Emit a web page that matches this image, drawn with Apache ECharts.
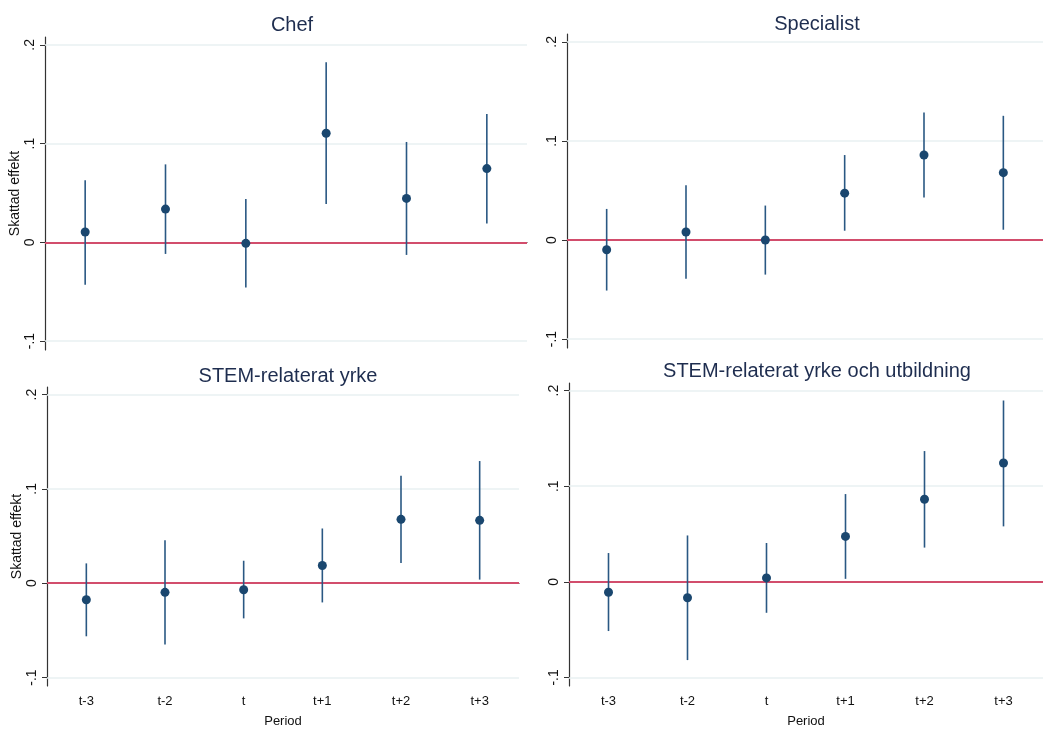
<!DOCTYPE html>
<html>
<head>
<meta charset="utf-8">
<script src="https://cdn.jsdelivr.net/npm/echarts@6/dist/echarts.min.js"></script>
<style>
  html, body { margin: 0; padding: 0; background: #fff; }
  #main { width: 1043px; height: 729px; }
</style>
</head>
<body>
<div id="main"></div>
<script>
// periods on the x axis
const periods = ['t-3', 't-2', 't', 't+1', 't+2', 't+3'];
const yTicks = [-0.1, 0, 0.1, 0.2];

// Chef
const chefEst = [0.0105, 0.0337, -0.001, 0.1105, 0.0445, 0.0747];
const chefLo  = [-0.043, -0.0117, -0.0458, 0.0388, -0.0127, 0.0192];
const chefHi  = [0.063, 0.079, 0.044, 0.1825, 0.1017, 0.130];

// Specialist
const specEst = [-0.0098, 0.0081, 0.000, 0.0473, 0.0858, 0.068];
const specLo  = [-0.051, -0.0392, -0.0349, 0.0094, 0.0429, 0.0104];
const specHi  = [0.0314, 0.0554, 0.0348, 0.0858, 0.1288, 0.1254];

// STEM-relaterat yrke
const stemEst = [-0.0176, -0.0097, -0.0069, 0.0187, 0.0677, 0.0666];
const stemLo  = [-0.0563, -0.065, -0.0373, -0.0204, 0.0214, 0.0038];
const stemHi  = [0.021, 0.0456, 0.0238, 0.058, 0.114, 0.1295];

// STEM-relaterat yrke och utbildning
const eduEst = [-0.0109, -0.0167, 0.0041, 0.0475, 0.0864, 0.1243];
const eduLo  = [-0.0515, -0.0819, -0.0324, 0.0031, 0.0358, 0.058];
const eduHi  = [0.0301, 0.0485, 0.0406, 0.0918, 0.1368, 0.1897];

const panels = [
  { title: 'Chef', est: chefEst, lo: chefLo, hi: chefHi, titleX: 287, titleY: 10,
    grid: { left: 45, top: 37, width: 482, height: 313 }, yName: true, xName: false },
  { title: 'Specialist', est: specEst, lo: specLo, hi: specHi, titleX: 812, titleY: 9,
    grid: { left: 567, top: 34, width: 492, height: 314 }, yName: false, xName: false },
  { title: 'STEM-relaterat yrke', est: stemEst, lo: stemLo, hi: stemHi, titleX: 283, titleY: 361,
    grid: { left: 47, top: 387, width: 472, height: 307 }, yName: true, xName: true },
  { title: 'STEM-relaterat yrke och utbildning', est: eduEst, lo: eduLo, hi: eduHi, titleX: 812, titleY: 356,
    grid: { left: 569, top: 383, width: 487, height: 309 }, yName: false, xName: true }
];

const navy = '#1a476f';
const axisCol = '#333';
const font = 'Liberation Sans, Arial, sans-serif';

function fmtY(v) {
  if (Math.abs(v) < 1e-9) return '0';
  return String(Math.round(v * 10) / 10).replace('0.', '.');
}

const chart = echarts.init(document.getElementById('main'));

const option = {
  backgroundColor: '#fff',
  animation: false,
  textStyle: { fontFamily: font },
  title: panels.map(p => ({
    text: p.title,
    left: p.titleX,
    top: p.titleY,
    textAlign: 'center',
    textStyle: { fontSize: 20, fontWeight: 'normal', color: '#1e2d4f', fontFamily: font }
  })),
  grid: panels.map(p => Object.assign({ containLabel: false }, p.grid)),
  xAxis: panels.map((p, i) => ({
    type: 'category',
    gridIndex: i,
    data: periods,
    boundaryGap: true,
    name: p.xName ? 'Period' : '',
    nameLocation: 'middle',
    nameGap: 29,
    nameTextStyle: { fontSize: 13, color: '#111' },
    axisLine: { lineStyle: { color: axisCol, width: 1.2 } },
    axisTick: { alignWithLabel: true, length: 5, lineStyle: { color: axisCol } },
    axisLabel: { show: p.xName, fontSize: 13, color: '#111', margin: 9 },
    splitLine: { show: false }
  })),
  yAxis: panels.map((p, i) => ({
    type: 'value',
    gridIndex: i,
    min: -0.109,
    max: 0.208,
    name: p.yName ? 'Skattad effekt' : '',
    nameLocation: 'middle',
    nameRotate: 90,
    nameGap: 23,
    nameTextStyle: { fontSize: 14, color: '#111' },
    axisLine: { show: true, lineStyle: { color: axisCol, width: 1.2 } },
    axisTick: { show: true, length: 5, customValues: yTicks, lineStyle: { color: axisCol } },
    axisLabel: { customValues: yTicks, rotate: 90, fontSize: 14, color: '#111', margin: 8,
      formatter: fmtY },
    splitLine: { show: false }
  })),
  series: []
};

panels.forEach((p, i) => {
  // light horizontal grid lines at the tick values
  option.series.push({
    type: 'line',
    xAxisIndex: i, yAxisIndex: i,
    data: [],
    silent: true,
    markLine: {
      silent: true, symbol: 'none', label: { show: false }, z: 1,
      lineStyle: { color: '#e8f0f2', width: 1.5, type: 'solid' },
      data: yTicks.filter(v => v !== 0).map(v => ({ yAxis: v }))
    },
    z: 1
  });
  // zero reference line
  option.series.push({
    type: 'line',
    xAxisIndex: i, yAxisIndex: i,
    data: [],
    silent: true,
    markLine: {
      silent: true, symbol: 'none', label: { show: false }, z: 2,
      lineStyle: { color: '#d24d6c', width: 2, type: 'solid' },
      data: [{ yAxis: 0 }]
    },
    z: 2
  });
  // confidence intervals
  option.series.push({
    type: 'custom',
    xAxisIndex: i, yAxisIndex: i,
    data: periods.map((c, k) => [k, p.lo[k], p.hi[k]]),
    encode: { x: 0, y: [1, 2] },
    renderItem: function (params, api) {
      const a = api.coord([api.value(0), api.value(1)]);
      const b = api.coord([api.value(0), api.value(2)]);
      return {
        type: 'line',
        shape: { x1: a[0], y1: a[1], x2: b[0], y2: b[1] },
        style: { stroke: '#2a5883', lineWidth: 1.6 }
      };
    },
    z: 3
  });
  // point estimates
  option.series.push({
    type: 'scatter',
    xAxisIndex: i, yAxisIndex: i,
    data: p.est,
    symbolSize: 9,
    itemStyle: { color: navy, opacity: 1 },
    z: 4
  });
});

chart.setOption(option);
</script>
</body>
</html>
